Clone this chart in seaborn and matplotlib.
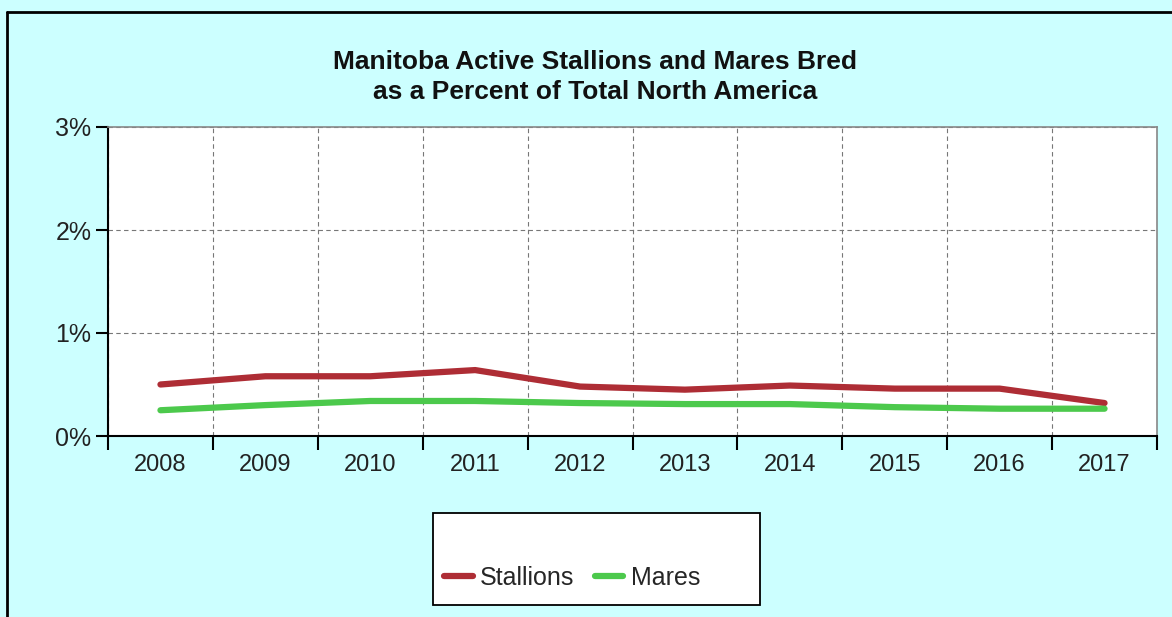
"""Manitoba active stallions and mares bred as a share of North America."""
import matplotlib

matplotlib.use("Agg")
import matplotlib.pyplot as plt
from matplotlib.lines import Line2D
from matplotlib.patches import Rectangle
from matplotlib.ticker import FixedLocator, FuncFormatter
import numpy as np
import pandas as pd
import seaborn as sns

years = ["2008", "2009", "2010", "2011", "2012", "2013", "2014", "2015", "2016", "2017"]
stallions = [0.50, 0.58, 0.58, 0.64, 0.48, 0.45, 0.49, 0.46, 0.46, 0.32]
mares = [0.25, 0.30, 0.34, 0.34, 0.32, 0.31, 0.31, 0.28, 0.265, 0.265]

BG = "#CCFFFF"
RED = "#AE2D35"
GREEN = "#4CC94C"
W, H = 1172, 617

sns.set_theme(style="white")
plt.rcParams["font.family"] = ["Liberation Sans", "DejaVu Sans"]

pos = np.arange(len(years))
df = pd.concat([
    pd.DataFrame({"pos": pos, "pct": stallions, "series": "Stallions"}),
    pd.DataFrame({"pos": pos, "pct": mares, "series": "Mares"}),
])

fig = plt.figure(figsize=(W / 100, H / 100), dpi=100, facecolor=BG)
ax = fig.add_axes([108 / W, 1 - 436 / H, (1157 - 108) / W, (436 - 127) / H])
ax.set_facecolor("white")

sns.lineplot(data=df, x="pos", y="pct", hue="series",
             palette={"Stallions": RED, "Mares": GREEN},
             lw=4.5, ax=ax, legend=False)

ax.set_xlim(-0.5, len(years) - 0.5)
ax.set_ylim(0, 3)

# category boundaries carry ticks + grid, labels sit at centers
ax.xaxis.set_major_locator(FixedLocator(np.arange(-0.5, len(years), 1.0)))
ax.xaxis.set_minor_locator(FixedLocator(pos))
ax.set_xticklabels([])
ax.set_xticklabels(years, minor=True)
ax.tick_params(axis="x", which="major", direction="out", length=10, width=1.5,
               color="black", bottom=True)
ax.tick_params(axis="x", which="minor", length=0, pad=13, labelsize=17,
               labelcolor="#222222")

ax.set_yticks([0, 1, 2, 3])
ax.yaxis.set_major_formatter(FuncFormatter(lambda v, _: f"{v:.0f}%"))
ax.tick_params(axis="y", direction="out", length=9, width=1.5, color="black",
               left=True, labelsize=18, pad=3, labelcolor="#222222")

ax.grid(True, axis="both", which="major", color="#777777", ls=(0, (4, 3)), lw=0.8)
ax.set_xlabel("")
ax.set_ylabel("")

for side in ("left", "bottom"):
    ax.spines[side].set_color("black")
    ax.spines[side].set_linewidth(1.5)
for side in ("top", "right"):
    ax.spines[side].set_color("#888888")
    ax.spines[side].set_linewidth(1.2)

fig.text(595 / W, 1 - 77 / H, "Manitoba Active Stallions and Mares Bred\n"
         "as a Percent of Total North America",
         ha="center", va="center", fontsize=19, weight="bold",
         linespacing=1.3, color="#111111")

# legend box is larger than its entries, so draw it separately
fig.add_artist(Rectangle((433 / W, 1 - 605 / H), (760 - 433) / W, (605 - 513) / H,
                         transform=fig.transFigure, facecolor="white",
                         edgecolor="black", lw=1.3))
handles = [Line2D([], [], color=RED, lw=4.5), Line2D([], [], color=GREEN, lw=4.5)]
fig.legend(handles, ["Stallions", "Mares"], loc="center left",
           bbox_to_anchor=(444 / W, 1 - 578 / H), ncol=2, fontsize=18,
           frameon=False, handlelength=1.15, handletextpad=0.3,
           columnspacing=0.8, borderpad=0, borderaxespad=0)

# outer chart frame (only top and left edges fall inside the image)
fig.add_artist(Line2D([7 / W, 7 / W], [0, 1 - 12 / H], color="black",
                      lw=2, transform=fig.transFigure))
fig.add_artist(Line2D([7 / W, 1], [1 - 12 / H, 1 - 12 / H], color="black",
                      lw=2, transform=fig.transFigure))

fig.savefig("out.png", dpi=100, facecolor=BG)
